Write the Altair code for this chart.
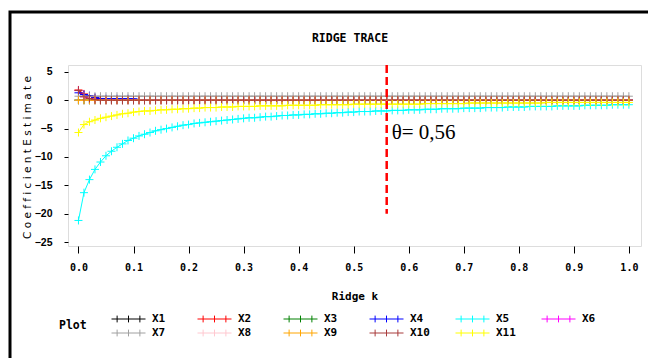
import altair as alt
import pandas as pd

# ---- data ----
K = [0.00, 0.01, 0.02, 0.03, 0.04, 0.05, 0.06, 0.07, 0.08, 0.09,
     0.10, 0.11, 0.12, 0.13, 0.14, 0.15, 0.16, 0.17, 0.18, 0.19,
     0.20, 0.21, 0.22, 0.23, 0.24, 0.25, 0.26, 0.27, 0.28, 0.29,
     0.30, 0.31, 0.32, 0.33, 0.34, 0.35, 0.36, 0.37, 0.38, 0.39,
     0.40, 0.41, 0.42, 0.43, 0.44, 0.45, 0.46, 0.47, 0.48, 0.49,
     0.50, 0.51, 0.52, 0.53, 0.54, 0.55, 0.56, 0.57, 0.58, 0.59,
     0.60, 0.61, 0.62, 0.63, 0.64, 0.65, 0.66, 0.67, 0.68, 0.69,
     0.70, 0.71, 0.72, 0.73, 0.74, 0.75, 0.76, 0.77, 0.78, 0.79,
     0.80, 0.81, 0.82, 0.83, 0.84, 0.85, 0.86, 0.87, 0.88, 0.89,
     0.90, 0.91, 0.92, 0.93, 0.94, 0.95, 0.96, 0.97, 0.98, 0.99,
     1.00]

SERIES = ["X1", "X2", "X3", "X4", "X5", "X6", "X7", "X8", "X9", "X10", "X11"]
COLORS = ["#000000", "#ff0000", "#008000", "#0000ff", "#00ffff", "#ff00ff",
          "#a0a0a0", "#ffc8d0", "#ffa500", "#a83c3c", "#ffff00"]

X1 = [0.0, 0.0, 0.0, 0.0, 0.0, 0.0, 0.0, 0.0, 0.0, 0.0,
      0.0, 0.0, 0.0, 0.0, 0.0, 0.0, 0.0, 0.0, 0.0, 0.0,
      0.0, 0.0, 0.0, 0.0, 0.0, 0.0, 0.0, 0.0, 0.0, 0.0,
      0.0, 0.0, 0.0, 0.0, 0.0, 0.0, 0.0, 0.0, 0.0, 0.0,
      0.0, 0.0, 0.0, 0.0, 0.0, 0.0, 0.0, 0.0, 0.0, 0.0,
      0.0, 0.0, 0.0, 0.0, 0.0, 0.0, 0.0, 0.0, 0.0, 0.0,
      0.0, 0.0, 0.0, 0.0, 0.0, 0.0, 0.0, 0.0, 0.0, 0.0,
      0.0, 0.0, 0.0, 0.0, 0.0, 0.0, 0.0, 0.0, 0.0, 0.0,
      0.0, 0.0, 0.0, 0.0, 0.0, 0.0, 0.0, 0.0, 0.0, 0.0,
      0.0, 0.0, 0.0, 0.0, 0.0, 0.0, 0.0, 0.0, 0.0, 0.0,
      0.0]
X2 = [1.8, 1.1, 0.7, 0.4, 0.3, 0.1, 0.1, 0.1, 0.1, 0.1,
      0.1, 0.1, 0.1, 0.1, 0.1, 0.1, 0.1, 0.1, 0.1, 0.1,
      0.1, 0.1, 0.1, 0.1, 0.1, 0.1, 0.1, 0.1, 0.1, 0.1,
      0.1, 0.1, 0.1, 0.1, 0.1, 0.1, 0.1, 0.1, 0.1, 0.1,
      0.1, 0.1, 0.1, 0.1, 0.1, 0.1, 0.1, 0.1, 0.1, 0.1,
      0.1, 0.1, 0.1, 0.1, 0.1, 0.1, 0.1, 0.1, 0.1, 0.1,
      0.1, 0.1, 0.1, 0.1, 0.1, 0.1, 0.1, 0.1, 0.1, 0.1,
      0.1, 0.1, 0.1, 0.1, 0.1, 0.1, 0.1, 0.1, 0.1, 0.1,
      0.1, 0.1, 0.1, 0.1, 0.1, 0.1, 0.1, 0.1, 0.1, 0.1,
      0.1, 0.1, 0.1, 0.1, 0.1, 0.1, 0.1, 0.1, 0.1, 0.1,
      0.1]
X3 = [0.0, 0.0, 0.0, 0.0, 0.0, 0.0, 0.0, 0.0, 0.0, 0.0,
      0.0, 0.0, 0.0, 0.0, 0.0, 0.0, 0.0, 0.0, 0.0, 0.0,
      0.0, 0.0, 0.0, 0.0, 0.0, 0.0, 0.0, 0.0, 0.0, 0.0,
      0.0, 0.0, 0.0, 0.0, 0.0, 0.0, 0.0, 0.0, 0.0, 0.0,
      0.0, 0.0, 0.0, 0.0, 0.0, 0.0, 0.0, 0.0, 0.0, 0.0,
      0.0, 0.0, 0.0, 0.0, 0.0, 0.0, 0.0, 0.0, 0.0, 0.0,
      0.0, 0.0, 0.0, 0.0, 0.0, 0.0, 0.0, 0.0, 0.0, 0.0,
      0.0, 0.0, 0.0, 0.0, 0.0, 0.0, 0.0, 0.0, 0.0, 0.0,
      0.0, 0.0, 0.0, 0.0, 0.0, 0.0, 0.0, 0.0, 0.0, 0.0,
      0.0, 0.0, 0.0, 0.0, 0.0, 0.0, 0.0, 0.0, 0.0, 0.0,
      0.0]
X4 = [1.3, 1.0, 0.8, 0.5, 0.3, 0.25, 0.25, 0.25, 0.25, 0.25,
      0.25, 0.05, 0.05, 0.05, 0.05, 0.05, 0.05, 0.05, 0.05, 0.05,
      0.05, 0.05, 0.05, 0.05, 0.05, 0.05, 0.05, 0.05, 0.05, 0.05,
      0.05, 0.05, 0.05, 0.05, 0.05, 0.05, 0.05, 0.05, 0.05, 0.05,
      0.05, 0.05, 0.05, 0.05, 0.05, 0.05, 0.05, 0.05, 0.05, 0.05,
      0.05, 0.05, 0.05, 0.05, 0.05, 0.05, 0.05, 0.05, 0.05, 0.05,
      0.05, 0.05, 0.05, 0.05, 0.05, 0.05, 0.05, 0.05, 0.05, 0.05,
      0.05, 0.05, 0.05, 0.05, 0.05, 0.05, 0.05, 0.05, 0.05, 0.05,
      0.05, 0.05, 0.05, 0.05, 0.05, 0.05, 0.05, 0.05, 0.05, 0.05,
      0.05, 0.05, 0.05, 0.05, 0.05, 0.05, 0.05, 0.05, 0.05, 0.05,
      0.05]
X5 = [-21.2, -16.3, -14.0, -12.2, -10.9, -9.8, -9.0, -8.3, -7.7, -7.1,
      -6.7, -6.3, -6.0, -5.7, -5.4, -5.2, -5.0, -4.8, -4.6, -4.4,
      -4.3, -4.1, -4.0, -3.9, -3.8, -3.7, -3.6, -3.5, -3.4, -3.3,
      -3.2, -3.1, -3.1, -3.0, -2.9, -2.9, -2.8, -2.7, -2.7, -2.6,
      -2.6, -2.5, -2.5, -2.4, -2.4, -2.3, -2.3, -2.2, -2.2, -2.1,
      -2.1, -2.0, -2.0, -2.0, -1.9, -1.9, -1.9, -1.8, -1.8, -1.8,
      -1.7, -1.7, -1.7, -1.6, -1.6, -1.6, -1.5, -1.5, -1.5, -1.5,
      -1.4, -1.4, -1.4, -1.4, -1.3, -1.3, -1.3, -1.3, -1.2, -1.2,
      -1.2, -1.2, -1.1, -1.1, -1.1, -1.1, -1.1, -1.0, -1.0, -1.0,
      -1.0, -1.0, -0.9, -0.9, -0.9, -0.9, -0.9, -0.8, -0.8, -0.8,
      -0.8]
X6 = [1.7, 0.6, 0.3, 0.1, 0.0, 0.0, 0.0, 0.0, 0.0, 0.0,
      0.0, 0.0, 0.0, 0.0, 0.0, 0.0, 0.0, 0.0, 0.0, 0.0,
      0.0, 0.0, 0.0, 0.0, 0.0, 0.0, 0.0, 0.0, 0.0, 0.0,
      0.0, 0.0, 0.0, 0.0, 0.0, 0.0, 0.0, 0.0, 0.0, 0.0,
      0.0, 0.0, 0.0, 0.0, 0.0, 0.0, 0.0, 0.0, 0.0, 0.0,
      0.0, 0.0, 0.0, 0.0, 0.0, 0.0, 0.0, 0.0, 0.0, 0.0,
      0.0, 0.0, 0.0, 0.0, 0.0, 0.0, 0.0, 0.0, 0.0, 0.0,
      0.0, 0.0, 0.0, 0.0, 0.0, 0.0, 0.0, 0.0, 0.0, 0.0,
      0.0, 0.0, 0.0, 0.0, 0.0, 0.0, 0.0, 0.0, 0.0, 0.0,
      0.0, 0.0, 0.0, 0.0, 0.0, 0.0, 0.0, 0.0, 0.0, 0.0,
      0.0]
X7 = [0.7, 0.7, 0.7, 0.7, 0.7, 0.7, 0.7, 0.7, 0.7, 0.7,
      0.7, 0.7, 0.7, 0.7, 0.7, 0.7, 0.7, 0.7, 0.7, 0.7,
      0.7, 0.7, 0.7, 0.7, 0.7, 0.7, 0.7, 0.7, 0.7, 0.7,
      0.7, 0.7, 0.7, 0.7, 0.7, 0.7, 0.7, 0.7, 0.7, 0.7,
      0.7, 0.7, 0.7, 0.7, 0.7, 0.7, 0.7, 0.7, 0.7, 0.7,
      0.7, 0.7, 0.7, 0.7, 0.7, 0.7, 0.7, 0.7, 0.7, 0.7,
      0.7, 0.7, 0.7, 0.7, 0.7, 0.7, 0.7, 0.7, 0.7, 0.7,
      0.7, 0.7, 0.7, 0.7, 0.7, 0.7, 0.7, 0.7, 0.7, 0.7,
      0.7, 0.7, 0.7, 0.7, 0.7, 0.7, 0.7, 0.7, 0.7, 0.7,
      0.7, 0.7, 0.7, 0.7, 0.7, 0.7, 0.7, 0.7, 0.7, 0.7,
      0.7]
X8 = [0.0, 0.0, 0.0, 0.0, 0.0, 0.0, 0.0, 0.0, 0.0, 0.0,
      0.0, 0.0, 0.0, 0.0, 0.0, 0.0, 0.0, 0.0, 0.0, 0.0,
      0.0, 0.0, 0.0, 0.0, 0.0, 0.0, 0.0, 0.0, 0.0, 0.0,
      0.0, 0.0, 0.0, 0.0, 0.0, 0.0, 0.0, 0.0, 0.0, 0.0,
      0.0, 0.0, 0.0, 0.0, 0.0, 0.0, 0.0, 0.0, 0.0, 0.0,
      0.0, 0.0, 0.0, 0.0, 0.0, 0.0, 0.0, 0.0, 0.0, 0.0,
      0.0, 0.0, 0.0, 0.0, 0.0, 0.0, 0.0, 0.0, 0.0, 0.0,
      0.0, 0.0, 0.0, 0.0, 0.0, 0.0, 0.0, 0.0, 0.0, 0.0,
      0.0, 0.0, 0.0, 0.0, 0.0, 0.0, 0.0, 0.0, 0.0, 0.0,
      0.0, 0.0, 0.0, 0.0, 0.0, 0.0, 0.0, 0.0, 0.0, 0.0,
      0.0]
X9 = [0.0, 0.0, 0.0, 0.0, 0.0, 0.0, 0.0, 0.0, 0.0, 0.0,
      0.0, 0.0, 0.0, 0.0, 0.0, 0.0, 0.0, 0.0, 0.0, 0.0,
      0.0, 0.0, 0.0, 0.0, 0.0, 0.0, 0.0, 0.0, 0.0, 0.0,
      0.0, 0.0, 0.0, 0.0, 0.0, 0.0, 0.0, 0.0, 0.0, 0.0,
      0.0, 0.0, 0.0, 0.0, 0.0, 0.0, 0.0, 0.0, 0.0, 0.0,
      0.0, 0.0, 0.0, 0.0, 0.0, 0.0, 0.0, 0.0, 0.0, 0.0,
      0.0, 0.0, 0.0, 0.0, 0.0, 0.0, 0.0, 0.0, 0.0, 0.0,
      0.0, 0.0, 0.0, 0.0, 0.0, 0.0, 0.0, 0.0, 0.0, 0.0,
      0.0, 0.0, 0.0, 0.0, 0.0, 0.0, 0.0, 0.0, 0.0, 0.0,
      0.0, 0.0, 0.0, 0.0, 0.0, 0.0, 0.0, 0.0, 0.0, 0.0,
      0.0]
X10 = [1.7, 0.6, 0.3, 0.1, 0.0, 0.0, 0.0, 0.0, 0.0, 0.0,
       0.0, 0.0, 0.0, 0.0, 0.0, 0.0, 0.0, 0.0, 0.0, 0.0,
       0.0, 0.0, 0.0, 0.0, 0.0, 0.0, 0.0, 0.0, 0.0, 0.0,
       0.0, 0.0, 0.0, 0.0, 0.0, 0.0, 0.0, 0.0, 0.0, 0.0,
       0.0, 0.0, 0.0, 0.0, 0.0, 0.0, 0.0, 0.0, 0.0, 0.0,
       0.0, 0.0, 0.0, 0.0, 0.0, 0.0, 0.0, 0.0, 0.0, 0.0,
       0.0, 0.0, 0.0, 0.0, 0.0, 0.0, 0.0, 0.0, 0.0, 0.0,
       0.0, 0.0, 0.0, 0.0, 0.0, 0.0, 0.0, 0.0, 0.0, 0.0,
       0.0, 0.0, 0.0, 0.0, 0.0, 0.0, 0.0, 0.0, 0.0, 0.0,
       0.0, 0.0, 0.0, 0.0, 0.0, 0.0, 0.0, 0.0, 0.0, 0.0,
       0.0]
X11 = [-5.7, -4.3, -3.8, -3.5, -3.2, -3.0, -2.8, -2.6, -2.4, -2.3,
       -2.1, -2.0, -1.9, -1.9, -1.8, -1.7, -1.7, -1.6, -1.6, -1.5,
       -1.5, -1.4, -1.4, -1.3, -1.3, -1.3, -1.2, -1.2, -1.2, -1.1,
       -1.1, -1.1, -1.1, -1.0, -1.0, -1.0, -1.0, -1.0, -0.9, -0.9,
       -0.9, -0.9, -0.9, -0.9, -0.8, -0.8, -0.8, -0.8, -0.8, -0.8,
       -0.7, -0.7, -0.7, -0.7, -0.7, -0.7, -0.7, -0.7, -0.7, -0.7,
       -0.7, -0.7, -0.7, -0.6, -0.6, -0.6, -0.6, -0.6, -0.6, -0.6,
       -0.6, -0.5, -0.5, -0.5, -0.5, -0.5, -0.5, -0.5, -0.5, -0.5,
       -0.5, -0.5, -0.5, -0.5, -0.5, -0.4, -0.4, -0.4, -0.4, -0.4,
       -0.4, -0.4, -0.4, -0.4, -0.4, -0.4, -0.4, -0.4, -0.4, -0.4,
       -0.4]
VALUES = [X1, X2, X3, X4, X5, X6, X7, X8, X9, X10, X11]

XTICKS = [0.0, 0.1, 0.2, 0.3, 0.4, 0.5, 0.6, 0.7, 0.8, 0.9, 1.0]
YTICKS = [5, 0, -5, -10, -15, -20, -25]
THETA_K = [0.56]
THETA_TOP = [6.2]
THETA_BOTTOM = [-20.0]
THETA_LABEL_Y = [-5.8]
THETA_LABEL = ["θ= 0,56"]
TITLE = ["RIDGE TRACE"]

# ---- build table ----
rows = []
for s, vals in zip(SERIES, VALUES):
    for k, v in zip(K, vals):
        rows.append({"k": k, "v": v, "s": s})
df = pd.DataFrame(rows)

MONO = "DejaVu Sans Mono"
SANS = "Liberation Sans"
PLUS = "M-1,0H1M0,-1V1"
LEG_SYM = "M-1,0H1M-0.67,-0.2V0.2M0,-0.2V0.2M0.67,-0.2V0.2"

xs = alt.Scale(domain=[-0.019, 1.022], nice=False, zero=False)
ys = alt.Scale(domain=[-25.7, 6.2], nice=False, zero=False)

x_axis = alt.Axis(
    values=XTICKS, format=".1f", title="Ridge k", tickSize=7, tickColor="black",
    labelPadding=9, titlePadding=18, domain=False, grid=False, labelFlush=False,
    labelOverlap=False,
    labelFont=MONO, labelFontSize=10, labelFontWeight="bold", labelColor="black",
    titleFont=MONO, titleFontSize=11, titleFontWeight="bold", titleColor="black")
y_axis = alt.Axis(
    values=YTICKS, format="d", title="C o e f f i c i e n t   E s t i m a t e",
    tickSize=4, tickColor="black", labelPadding=12, labelOverlap=False,
    domain=False, grid=False, labelFont=SANS, labelFontSize=10.5,
    labelFontWeight="bold", labelColor="black",
    titleFont="DejaVu Sans", titleFontSize=10.5, titleFontWeight="normal",
    titleColor="black", titleX=-41, titleY=92, titleAngle=-90,
    titleAlign="center", titleBaseline="middle")

x_enc = alt.X("k:Q", scale=xs, axis=x_axis)
y_enc = alt.Y("v:Q", scale=ys, axis=y_axis)

color_scale = alt.Scale(domain=SERIES, range=COLORS)

legend = alt.Legend(
    title="Plot", orient="none", legendX=-9, legendY=247, direction="horizontal",
    columns=6, titleOrient="left", titleFont=MONO, titleFontSize=11.5,
    titleFontWeight="bold", titleColor="black", titlePadding=24,
    labelFont=MONO, labelFontSize=11, labelFontWeight="bold", labelColor="black",
    symbolType=LEG_SYM, symbolSize=1156, symbolStrokeWidth=1,
    symbolFillColor="transparent", labelOffset=6, columnPadding=25,
    rowPadding=0, clipHeight=14, gridAlign="all")

base = alt.Chart(df)
lines = base.mark_line(strokeWidth=1, clip=True).encode(
    x=x_enc, y=y_enc, color=alt.Color("s:N", scale=color_scale, legend=legend),
    detail="s:N")
points = base.mark_point(shape=PLUS, size=64, filled=False, strokeWidth=1,
                         opacity=1, clip=True).encode(
    x=x_enc, y=y_enc, color=alt.Color("s:N", scale=color_scale, legend=None))

theta_df = pd.DataFrame({"k": THETA_K, "top": THETA_TOP, "bot": THETA_BOTTOM,
                         "ly": THETA_LABEL_Y, "label": THETA_LABEL})
rule = alt.Chart(theta_df).mark_rule(color="red", strokeWidth=2.5,
                                     strokeDash=[8, 4]).encode(
    x=alt.X("k:Q", scale=xs, axis=x_axis), y=alt.Y("top:Q", scale=ys, axis=y_axis),
    y2="bot:Q")
label = alt.Chart(theta_df).mark_text(align="left", baseline="middle", dx=5,
                                      font="Liberation Serif", fontSize=21,
                                      color="black").encode(
    x=alt.X("k:Q", scale=xs, axis=x_axis), y=alt.Y("ly:Q", scale=ys, axis=y_axis),
    text="label:N")

title = alt.Chart(pd.DataFrame({"t": TITLE})).mark_text(
    align="center", baseline="middle", font=MONO, fontSize=11.5,
    fontWeight="bold", color="black").encode(
    x=alt.value(282), y=alt.value(-26), text="t:N")

frame = alt.Chart(pd.DataFrame({"a": [0]})).mark_rect(
    fill="white", fillOpacity=0, stroke="black", strokeWidth=3).encode(
    x=alt.value(-58), x2=alt.value(700), y=alt.value(-53), y2=alt.value(400))

chart = alt.layer(frame, title, lines, points, rule, label).properties(
    width=573, height=181,
    autosize=alt.AutoSizeParams(type="none"),
    padding={"left": 68, "top": 65, "right": 7, "bottom": 112},
).configure_view(
    stroke="#404040", strokeWidth=1
).configure_axis(
    labelOverlap=False
).configure(background="white")

chart.save("out.html", embed_options={"renderer": "svg", "actions": False})
